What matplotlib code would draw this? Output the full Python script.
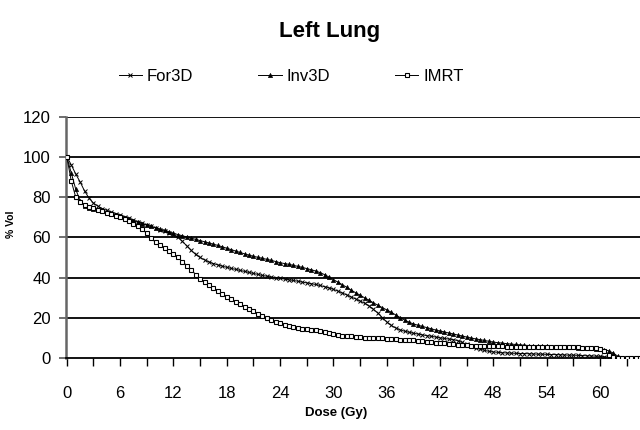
import numpy as np
import matplotlib
matplotlib.use("Agg")
import matplotlib.pyplot as plt
from matplotlib.ticker import FixedLocator

plt.rcParams['font.family'] = ['Liberation Sans', 'DejaVu Sans']

# Dose grid (Gy), 0.5 Gy bins
dose_step = 0.5

imrt = [100, 88, 80, 77.5, 76, 75.2, 74.5, 73.8, 73, 72.2, 71.5, 70.8, 70, 69, 68, 66.8,
        65.5, 64, 62, 59.5, 57.5, 56, 54.5, 53, 51.5, 50, 48, 46, 44, 41.5, 39.5, 38,
        36.5, 35, 33.5, 32, 30.6, 29.3, 28, 26.7, 25.5, 24.4, 23.3, 22.1, 21, 19.9, 18.8, 18.1,
        17.5, 16.7, 16, 15.5, 15, 14.7, 14.5, 14.2, 14, 13.5, 13, 12.5, 12, 11.6, 11.2, 11,
        10.8, 10.6, 10.4, 10.2, 10.1, 10, 9.9, 9.8, 9.7, 9.5, 9.4, 9.2, 9.1, 8.9, 8.8, 8.5,
        8.3, 8.1, 7.9, 7.7, 7.5, 7.3, 7, 6.8, 6.6, 6.5, 6.4, 6.3, 6.3, 6.2, 6.1, 6,
        6, 5.9, 5.9, 5.8, 5.8, 5.8, 5.8, 5.8, 5.8, 5.7, 5.7, 5.7, 5.7, 5.6, 5.6, 5.6,
        5.5, 5.5, 5.4, 5.4, 5.3, 5.2, 5.1, 5, 4.8, 3.8, 1.5, 0.5, 0.2, 0.1, 0, 0,
        0, 0]

for3d = [100, 96, 91.5, 87.5, 83, 79.5, 77, 75.5, 74.3, 73.4, 72.6, 71.8, 71, 70.2, 69.4, 68.6,
         67.8, 67, 66.2, 65.4, 64.6, 63.8, 63, 62.2, 61.4, 60, 58, 55.8, 53.5, 51.5, 50, 48.8,
         47.8, 47, 46.3, 45.7, 45.1, 44.6, 44.1, 43.6, 43.1, 42.6, 42.1, 41.6, 41.1, 40.7, 40.3, 40,
         39.7, 39.3, 38.9, 38.6, 38.2, 37.8, 37.4, 37, 36.6, 36.1, 35.5, 34.9, 34.2, 33.3, 32.4, 31.4,
         30.4, 29.4, 28.4, 27.3, 26, 24.3, 22.4, 20.2, 18, 16.3, 15, 14.1, 13.4, 12.9, 12.4, 12,
         11.6, 11.2, 10.9, 10.5, 10.1, 9.8, 9.5, 9.2, 8.7, 7.8, 6.8, 5.9, 5.2, 4.5, 3.9, 3.4,
         3.1, 2.9, 2.7, 2.6, 2.5, 2.4, 2.3, 2.3, 2.2, 2.1, 2, 2, 1.9, 1.8, 1.8, 1.7,
         1.6, 1.5, 1.5, 1.4, 1.3, 1.2, 1.1, 1, 0.9, 0.7, 0.5, 0.2, 0]

inv3d = [100, 92, 84, 78, 75.8, 74.8, 74, 73.5, 73, 72.4, 71.8, 71.2, 70.5, 69.8, 69, 68.2,
         67.5, 66.8, 66, 65.4, 64.8, 64.1, 63.5, 62.8, 62, 61.4, 60.8, 60.2, 59.6, 59, 58.4, 57.8,
         57.2, 56.6, 56, 55.3, 54.6, 53.9, 53.2, 52.5, 51.8, 51.2, 50.6, 50.1, 49.6, 49.1, 48.6, 48,
         47.4, 47, 46.6, 46.1, 45.6, 45.1, 44.5, 43.9, 43.3, 42.5, 41.5, 40.3, 39, 37.8, 36.5, 35.2,
         33.8, 32.5, 31.3, 30, 28.8, 27.5, 26.3, 25.1, 24, 22.8, 21.5, 20.2, 19, 17.9, 17, 16.4,
         15.8, 15.2, 14.6, 14, 13.5, 13, 12.5, 12, 11.5, 11, 10.5, 10, 9.6, 9.2, 8.8, 8.4,
         8, 7.7, 7.5, 7.2, 7, 6.8, 6.6, 6.4, 6.3, 6.2, 6.1, 6, 5.9, 5.8, 5.7, 5.6,
         5.5, 5.4, 5.4, 5.3, 5.2, 5, 4.9, 4.8, 4.6, 4.3, 3.6, 2.5, 1, 0]

series_names = ["For3D", "Inv3D", "IMRT"]
x_tick_labels = [0, 6, 12, 18, 24, 30, 36, 42, 48, 54, 60]
y_ticks = [0, 20, 40, 60, 80, 100, 120]

fig = plt.figure(figsize=(6.4, 4.3), dpi=100)
ax = fig.add_axes([0.103, 0.167, 0.897, 0.562])

def dose_for(vals):
    return np.arange(len(vals)) * dose_step

for y in y_ticks[1:]:
    ax.axhline(y, color='black', lw=1.3, zorder=1)

l1, = ax.plot(dose_for(for3d), for3d, color='black', lw=0.7, marker='x', ms=3.5,
              mew=0.7, zorder=3, label=series_names[0])
l2, = ax.plot(dose_for(inv3d), inv3d, color='black', lw=0.7, marker='^', ms=3,
              mew=0.5, zorder=3, label=series_names[1])
l3, = ax.plot(dose_for(imrt), imrt, color='black', lw=0.7, marker='s', ms=3.5,
              mfc='white', mew=0.8, zorder=4, label=series_names[2])

ax.set_xlim(-0.1, 64.5)
ax.set_ylim(0, 120)
ax.xaxis.set_major_locator(FixedLocator(x_tick_labels))
ax.xaxis.set_minor_locator(FixedLocator([v + 3 for v in x_tick_labels]))
ax.set_yticks(y_ticks)
ax.tick_params(axis='x', which='both', direction='out', length=6, width=1, color='black',
               pad=14, labelsize=12)
ax.tick_params(axis='y', direction='out', length=5, width=1.2, color='#555555',
               pad=6, labelsize=12)

for s in ['top', 'right']:
    ax.spines[s].set_visible(False)
ax.spines['left'].set_color('#666666')
ax.spines['left'].set_linewidth(1.8)
ax.spines['bottom'].set_color('black')
ax.spines['bottom'].set_linewidth(1.3)

ax.set_xlabel("Dose (Gy)", fontsize=9.5, fontweight='bold')
ax.xaxis.set_label_coords(0.47, -0.2)
ax.set_ylabel("% Vol", fontsize=7.5, fontweight='bold')
ax.yaxis.set_label_coords(-0.087, 0.556)

fig.text(0.515, 0.915, "Left Lung", ha='center', va='baseline', fontsize=16, fontweight='bold')

fig.legend(handles=[l1, l2, l3], loc='center', bbox_to_anchor=(0.455, 0.822), ncol=3,
           frameon=False, fontsize=12, handlelength=1.4, handletextpad=0.3,
           columnspacing=3.9, markerscale=1.0)

fig.savefig("out.png", dpi=100)
